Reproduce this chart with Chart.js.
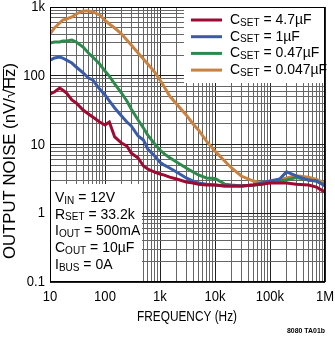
<!DOCTYPE html>
<html>
<head>
<meta charset="utf-8">
<script src="https://cdn.jsdelivr.net/npm/chart.js@4/dist/chart.umd.min.js"></script>
<style>
  html, body { margin: 0; padding: 0; background: #fff; }
  #wrap { width: 335px; height: 337px; }
</style>
</head>
<body>
<div id="wrap"><canvas id="noiseChart" width="335" height="337"></canvas></div>
<script>
// frequencies (Hz) the curves were read at
const freq = [10, 12, 15, 17, 20, 25, 30, 40, 50, 60, 80, 100, 120, 150, 200, 250, 300, 400, 500, 600, 800,
  1000, 1200, 1500, 2000, 3000, 4000, 5000, 7000, 10000, 15000, 20000, 30000, 50000, 70000,
  100000, 150000, 200000, 300000, 500000, 700000, 1000000];

// output noise, nV/rtHz
const noise4u7 = [54.3, 58, 66, 62, 56, 44.4, 40.2, 31.7, 27.8, 25.1, 21.2, 19.2, 21.2, 12.9, 10.5, 9.5, 7.5, 6.37, 4.87, 4.4, 3.98,
  3.72, 3.59, 3.35, 3.15, 2.85, 2.75, 2.65, 2.57, 2.57, 2.5, 2.5, 2.5, 2.57, 2.65,
  2.75, 2.75, 2.75, 2.65, 2.57, 2.4, 2.03];
const noise1u = [169, 181, 187, 181, 169, 153, 134, 110, 92.7, 86.7, 64, 52.5, 43, 34, 26, 21.2, 18.6, 13.3, 11.6, 8.6, 6.8,
  5.5, 5.0, 4.55, 3.98, 3.26, 2.94, 2.75, 2.65, 2.57, 2.5, 2.5, 2.5, 2.57, 2.75,
  2.94, 3.15, 4.0, 3.5, 3.04, 2.94, 2.5];
const noise0u47 = [299, 310, 310, 320, 320, 331, 310, 262, 214, 187, 148, 117, 99, 75.9, 56.1, 43, 32.8, 22.7, 17.4, 13.7, 10.2,
  8.3, 7.3, 6.4, 5.56, 4.55, 3.98, 3.6, 3.26, 3.2, 2.65, 2.57, 2.5, 2.57, 2.65,
  2.85, 2.94, 3.04, 3.3, 3.04, 2.94, 2.57];
const noise0u047 = [405, 495, 585, 647, 669, 716, 791, 875, 875, 846, 765, 640, 566, 495, 405, 331, 280, 214, 175, 148, 113,
  86.7, 68.6, 50.7, 38.8, 26.9, 19.9, 16.3, 11.2, 8.0, 5.75, 4.55, 3.48, 2.94, 2.75,
  2.85, 3.05, 3.26, 3.5, 3.35, 3.1, 2.75];

const seriesValues = [noise4u7, noise1u, noise0u47, noise0u047];
const seriesNames = ['4.7µF', '1µF', '0.47µF', '0.047µF'];
const seriesColors = ['#9e0b32', '#3a5ca8', '#2e8a4c', '#c9823f'];

const xTickValues = [10, 100, 1000, 10000, 100000, 1000000];
const xTickLabels = ['10', '100', '1k', '10k', '100k', '1M'];
const yTickValues = [0.1, 1, 10, 100, 1000];
const yTickLabels = ['0.1', '1', '10', '100', '1k'];

// test conditions box
const condMain = ['V', 'R', 'I', 'C', 'I'];
const condSub = ['IN', 'SET', 'OUT', 'OUT', 'BUS'];
const condValue = [' = 12V', ' = 33.2k', ' = 500mA', ' = 10µF', ' = 0A'];

const FONT = "'Liberation Sans', Arial, Helvetica, sans-serif";

function decadeTicks(lo, hi) {
  const out = [];
  for (let e = Math.log10(lo); e < Math.log10(hi); e++) {
    for (let m = 1; m < 10; m++) out.push({ value: m * Math.pow(10, e) });
  }
  out.push({ value: hi });
  return out;
}

function isDecade(v) {
  const l = Math.log10(v);
  return Math.abs(l - Math.round(l)) < 1e-9;
}

// condensed text: squeeze horizontally by sx
function textC(ctx, str, x, y, sx, align) {
  ctx.save();
  ctx.translate(x, y);
  ctx.scale(sx, 1);
  ctx.textAlign = align;
  ctx.fillText(str, 0, 0);
  ctx.restore();
}

// text with a subscript part, returns end x
function drawSub(ctx, x, y, main, sub, rest) {
  ctx.font = '14px ' + FONT;
  ctx.fillText(main, x, y);
  x += ctx.measureText(main).width;
  ctx.font = '10px ' + FONT;
  ctx.fillText(sub, x, y + 3);
  x += ctx.measureText(sub).width;
  ctx.font = '14px ' + FONT;
  ctx.fillText(rest, x, y);
  return x + ctx.measureText(rest).width;
}

const boxesPlugin = {
  id: 'boxes',
  beforeDatasetsDraw(chart) {
    const ctx = chart.ctx;
    const a = chart.chartArea;
    ctx.save();
    ctx.fillStyle = '#fff';
    // legend box, top right
    ctx.fillRect(184, a.top + 1, a.right - 185, 75);
    // conditions box, bottom left
    ctx.fillRect(a.left + 1, 184, 91, a.bottom - 185);
    ctx.restore();
  },
  afterDatasetsDraw(chart) {
    const ctx = chart.ctx;
    const a = chart.chartArea;
    ctx.save();
    ctx.strokeStyle = '#000';
    ctx.lineWidth = 1;
    ctx.strokeRect(Math.round(a.left) + 0.5, Math.round(a.top) + 0.5,
      Math.round(a.right - a.left) - 1, Math.round(a.bottom - a.top) - 1);

    ctx.fillStyle = '#000';
    ctx.textBaseline = 'middle';
    ctx.textAlign = 'left';
    // legend
    for (let i = 0; i < seriesNames.length; i++) {
      const y = 20 + i * 16.7;
      ctx.strokeStyle = seriesColors[i];
      ctx.lineWidth = 3;
      ctx.beginPath();
      ctx.moveTo(191, y);
      ctx.lineTo(222, y);
      ctx.stroke();
      drawSub(ctx, 230, y, 'C', 'SET', ' = ' + seriesNames[i]);
    }
    // conditions
    for (let i = 0; i < condMain.length; i++) {
      drawSub(ctx, 55, 198 + i * 16.7, condMain[i], condSub[i], condValue[i]);
    }
    ctx.restore();
  },
  afterDraw(chart) {
    const ctx = chart.ctx;
    const xs = chart.scales.x, ys = chart.scales.y;
    ctx.save();
    ctx.fillStyle = '#000';
    ctx.strokeStyle = '#000';
    ctx.textBaseline = 'middle';

    // tick labels
    ctx.font = '15px ' + FONT;
    xTickValues.forEach((v, i) => textC(ctx, xTickLabels[i], xs.getPixelForValue(v), 297, 0.87, 'center'));
    yTickValues.forEach((v, i) => textC(ctx, yTickLabels[i], 45, ys.getPixelForValue(v), 0.87, 'right'));

    // x title
    ctx.font = '14px ' + FONT;
    const xt = 'FREQUENCY (Hz)';
    textC(ctx, xt, 187, 317, 100 / ctx.measureText(xt).width, 'center');

    // y title with overline on Hz
    ctx.save();
    ctx.translate(11, 161);
    ctx.rotate(-Math.PI / 2);
    ctx.font = '16px ' + FONT;
    const p1 = 'OUTPUT NOISE (nV/', p2 = '√', p3 = 'Hz', p4 = ')';
    const w1 = ctx.measureText(p1).width, w2 = ctx.measureText(p2).width;
    const w3 = ctx.measureText(p3).width, w4 = ctx.measureText(p4).width;
    const sx = 196 / (w1 + w2 + w3 + w4);
    ctx.scale(sx, 1);
    let x = -(w1 + w2 + w3 + w4) / 2;
    ctx.textAlign = 'left';
    ctx.fillText(p1, x, 0); x += w1;
    ctx.fillText(p2, x, 0); x += w2;
    ctx.fillText(p3, x, 0);
    ctx.lineWidth = 1;
    ctx.beginPath();
    ctx.moveTo(x - 1, -7.5);
    ctx.lineTo(x + w3, -7.5);
    ctx.stroke();
    x += w3;
    ctx.fillText(p4, x, 0);
    ctx.restore();

    // figure id
    ctx.font = 'bold 8px ' + FONT;
    const fid = '8080 TA01b';
    ctx.save();
    ctx.translate(325, 331);
    ctx.scale(38 / ctx.measureText(fid).width, 1);
    ctx.textAlign = 'right';
    ctx.fillText(fid, 0, 0);
    ctx.restore();
    ctx.restore();
  }
};

const datasets = seriesValues.map((vals, i) => ({
  label: 'CSET = ' + seriesNames[i],
  data: freq.map((f, j) => ({ x: f, y: vals[j] })),
  borderColor: seriesColors[i],
  borderWidth: 3,
  pointRadius: 0,
  tension: 0,
  fill: false
}));

const gridColor = (c) => isDecade(c.tick.value) ? '#222' : '#666';

new Chart(document.getElementById('noiseChart'), {
  type: 'line',
  data: { datasets: datasets },
  options: {
    responsive: false,
    animation: false,
    devicePixelRatio: 1,
    layout: { padding: { left: 50, right: 10, top: 7, bottom: 55 } },
    plugins: { legend: { display: false }, tooltip: { enabled: false } },
    scales: {
      x: {
        type: 'logarithmic',
        min: 10,
        max: 1000000,
        afterBuildTicks: (s) => { s.ticks = decadeTicks(10, 1000000); },
        afterFit: (s) => { s.height = 0; s.paddingLeft = 0; s.paddingRight = 0; },
        ticks: { display: false, autoSkip: false },
        grid: { color: gridColor, lineWidth: 1, drawTicks: false },
        border: { display: false }
      },
      y: {
        type: 'logarithmic',
        min: 0.1,
        max: 1000,
        afterBuildTicks: (s) => { s.ticks = decadeTicks(0.1, 1000); },
        afterFit: (s) => { s.width = 0; s.paddingTop = 0; s.paddingBottom = 0; },
        ticks: { display: false, autoSkip: false },
        grid: { color: gridColor, lineWidth: 1, drawTicks: false },
        border: { display: false }
      }
    }
  },
  plugins: [boxesPlugin]
});
</script>
</body>
</html>
